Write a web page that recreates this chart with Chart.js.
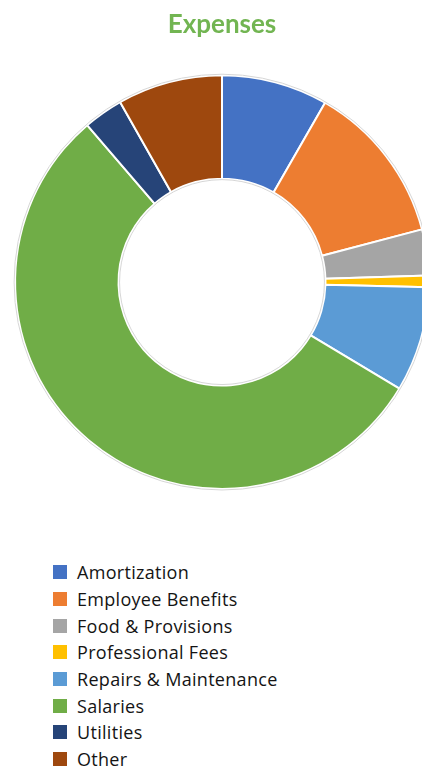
<!DOCTYPE html>
<html>
<head>
<meta charset="utf-8">
<script src="https://cdn.jsdelivr.net/npm/chart.js@4.4.1/dist/chart.umd.min.js"></script>
<style>
  html, body { margin: 0; padding: 0; background: #fff; }
  body { width: 422px; height: 768px; overflow: hidden; position: relative; font-family: "Open Sans", sans-serif; }
  #wrap { position: absolute; left: 0; top: 0; width: 444px; height: 502px; }
  #legend { position: absolute; left: 53px; top: 559px; margin: 0; padding: 0; list-style: none; }
  #legend li { height: 26.7px; display: flex; align-items: center; font-size: 18px; letter-spacing: 0.3px; color: #141414; white-space: nowrap; }
  #legend .sw { width: 14px; height: 14px; margin-right: 10px; flex: none; }
</style>
</head>
<body>
<div id="wrap"><canvas id="c" width="444" height="502"></canvas></div>
<ul id="legend"></ul>
<script>
const categories = ["Amortization", "Employee Benefits", "Food & Provisions", "Professional Fees", "Repairs & Maintenance", "Salaries", "Utilities", "Other"];
const values = [8.3, 12.6, 3.6, 0.9, 8.2, 55.1, 3.1, 8.2];
const colors = ["#4472C4", "#ED7D31", "#A5A5A5", "#FFC000", "#5B9BD5", "#70AD47", "#264478", "#9E480E"];
const chartTitle = "Expenses";

const outlinePlugin = {
  id: 'outline',
  afterDatasetsDraw(chart) {
    const meta = chart.getDatasetMeta(0);
    const arc = meta.data[0];
    if (!arc) return;
    const ctx = chart.ctx;
    ctx.save();
    ctx.strokeStyle = '#d6d6d6';
    ctx.lineWidth = 1;
    ctx.beginPath();
    ctx.arc(arc.x, arc.y, arc.outerRadius + 1, 0, Math.PI * 2);
    ctx.stroke();
    ctx.beginPath();
    ctx.arc(arc.x, arc.y, arc.innerRadius - 1, 0, Math.PI * 2);
    ctx.stroke();
    ctx.restore();
  }
};

const chart = new Chart(document.getElementById('c'), {
  type: 'doughnut',
  data: {
    labels: categories,
    datasets: [{
      data: values,
      backgroundColor: colors,
      borderColor: '#ffffff',
      borderWidth: 2
    }]
  },
  options: {
    responsive: false,
    animation: false,
    cutout: '50%',
    layout: { padding: { top: 0, bottom: 12, left: 0, right: 0 } },
    plugins: {
      legend: { display: false },
      tooltip: { enabled: false },
      title: {
        display: true,
        text: chartTitle,
        color: '#72B552',
        font: { family: 'Lato', size: 26, weight: 'bold' },
        padding: { top: 9, bottom: 34 }
      }
    }
  },
  plugins: [outlinePlugin]
});

const ul = document.getElementById('legend');
chart.legend.legendItems.forEach(item => {
  const li = document.createElement('li');
  const sw = document.createElement('span');
  sw.className = 'sw';
  sw.style.background = item.fillStyle;
  li.appendChild(sw);
  li.appendChild(document.createTextNode(item.text));
  ul.appendChild(li);
});
</script>
</body>
</html>
